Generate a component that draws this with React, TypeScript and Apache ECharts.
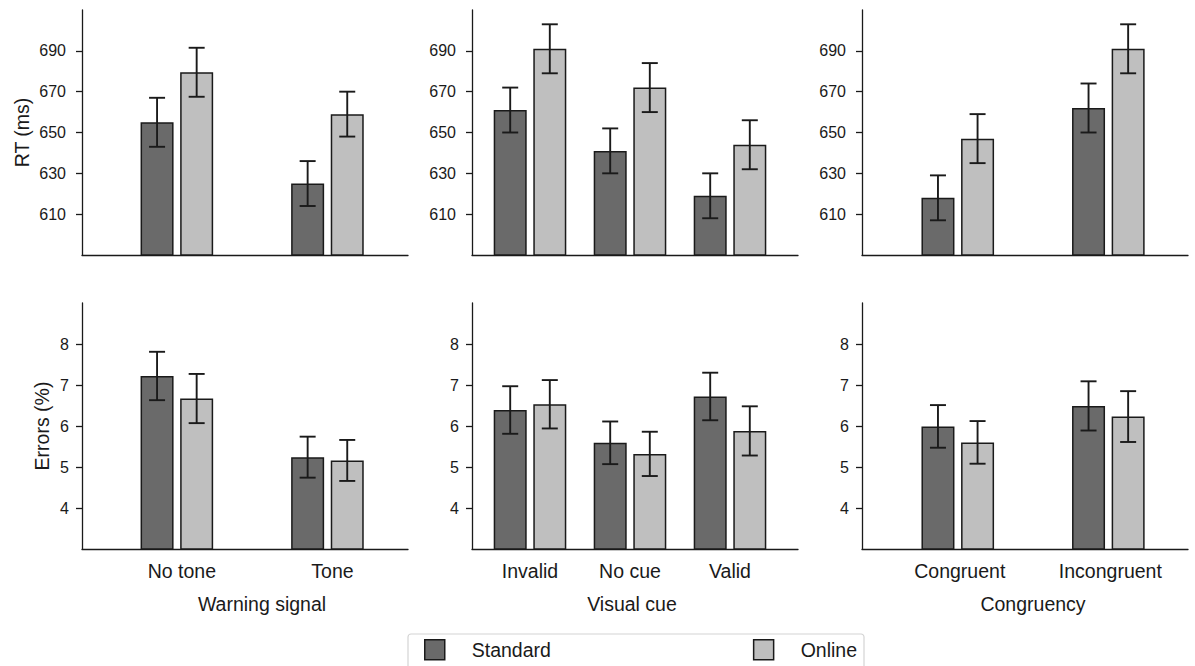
import React, { useEffect, useRef } from "react";
import * as echarts from "echarts";

// ---------- data ----------
const warningCats = ["No tone", "Tone"];
const cueCats = ["Invalid", "No cue", "Valid"];
const congCats = ["Congruent", "Incongruent"];

const rtTicks = [610, 630, 650, 670, 690];
const errTicks = [4, 5, 6, 7, 8];

// RT (ms)
const rtStdWarning = [655, 625];
const rtOnlWarning = [679.5, 659];
const rtStdWarningSE = [12, 11];
const rtOnlWarningSE = [12, 11];

const rtStdCue = [661, 641, 619];
const rtOnlCue = [691, 672, 644];
const rtStdCueSE = [11, 11, 11];
const rtOnlCueSE = [12, 12, 12];

const rtStdCong = [618, 662];
const rtOnlCong = [647, 691];
const rtStdCongSE = [11, 12];
const rtOnlCongSE = [12, 12];

// Errors (%)
const erStdWarning = [7.22, 5.24];
const erOnlWarning = [6.67, 5.16];
const erStdWarningSE = [0.59, 0.5];
const erOnlWarningSE = [0.6, 0.5];

const erStdCue = [6.39, 5.59, 6.72];
const erOnlCue = [6.53, 5.32, 5.88];
const erStdCueSE = [0.58, 0.52, 0.58];
const erOnlCueSE = [0.59, 0.54, 0.6];

const erStdCong = [5.99, 6.49];
const erOnlCong = [5.6, 6.23];
const erStdCongSE = [0.52, 0.6];
const erOnlCongSE = [0.52, 0.62];

// ---------- layout / style ----------
const FONT = "'Liberation Sans', Arial, Helvetica, sans-serif";
const INK = "#1a1a1a";
const DARK = "#6a6a6a";
const LIGHT = "#bfbfbf";
const BAR_W = 33;
const BAR_GAP = 0.2;
const BAR_OFF = (BAR_W + BAR_W * BAR_GAP) / 2;
const CAP = 8;

const panels = [
  { cats: warningCats, name: "Warning signal", left: 82, width: 326, xMin: -0.63, xMax: 1.535, namePad: [0, 0, 0, 34], labelPad: [0, 0, 0, 10] },
  { cats: cueCats, name: "Visual cue", left: 472, width: 326, xMin: -0.58, xMax: 2.68, namePad: [0, 6, 0, 0], labelPad: [0, 0, 0, 0] },
  { cats: congCats, name: "Congruency", left: 862, width: 326, xMin: -0.636, xMax: 1.529, namePad: [0, 0, 0, 16], labelPad: [0, 0, 0, 4] },
];

const rows = [
  {
    top: 10, height: 245, yMin: 590, yMax: 710, ticks: rtTicks, yName: "RT (ms)", nameGap: 50, labelMargin: 16,
    std: [rtStdWarning, rtStdCue, rtStdCong], onl: [rtOnlWarning, rtOnlCue, rtOnlCong],
    stdSE: [rtStdWarningSE, rtStdCueSE, rtStdCongSE], onlSE: [rtOnlWarningSE, rtOnlCueSE, rtOnlCongSE],
  },
  {
    top: 303, height: 246, yMin: 3, yMax: 9, ticks: errTicks, yName: "Errors (%)", nameGap: 30, labelMargin: 13,
    std: [erStdWarning, erStdCue, erStdCong], onl: [erOnlWarning, erOnlCue, erOnlCong],
    stdSE: [erStdWarningSE, erStdCueSE, erStdCongSE], onlSE: [erOnlWarningSE, erOnlCueSE, erOnlCongSE],
  },
];

function buildOption() {
  const grid: any[] = [];
  const xAxis: any[] = [];
  const yAxis: any[] = [];
  const series: any[] = [];

  rows.forEach((row, r) => {
    panels.forEach((p, c) => {
      const idx = r * 3 + c;
      grid.push({ left: p.left, top: row.top, width: p.width, height: row.height, containLabel: false });
      const isBottom = r === 1;
      xAxis.push({
        gridIndex: idx,
        type: "value",
        min: p.xMin,
        max: p.xMax,
        axisLine: { show: true, onZero: false, lineStyle: { color: INK, width: 1.3 } },
        axisTick: { show: false },
        splitLine: { show: false },
        axisLabel: isBottom
          ? {
              show: true,
              customValues: p.cats.map((_, i) => i),
              formatter: (v: number) => p.cats[Math.round(v)] ?? "",
              fontSize: 19.5,
              fontFamily: FONT,
              color: INK,
              margin: 12,
              padding: p.labelPad,
            }
          : { show: false },
        name: isBottom ? p.name : "",
        nameLocation: "middle",
        nameGap: 45,
        nameTextStyle: { fontSize: 19.5, fontFamily: FONT, color: INK, padding: p.namePad },
      });
      yAxis.push({
        gridIndex: idx,
        type: "value",
        min: row.yMin,
        max: row.yMax,
        axisLine: { show: true, onZero: false, lineStyle: { color: INK, width: 1.3 } },
        axisTick: { show: true, length: 6, customValues: row.ticks, lineStyle: { color: INK, width: 1.3 } },
        axisLabel: { customValues: row.ticks, fontSize: 16, fontFamily: FONT, color: INK, margin: row.labelMargin },
        splitLine: { show: false },
        name: c === 0 ? row.yName : "",
        nameLocation: "middle",
        nameRotate: 90,
        nameGap: row.nameGap,
        nameTextStyle: { fontSize: 19.5, fontFamily: FONT, color: INK },
      });

      const std = row.std[c];
      const onl = row.onl[c];
      series.push({
        type: "bar",
        name: "Standard",
        xAxisIndex: idx,
        yAxisIndex: idx,
        data: std.map((v, i) => [i, v]),
        barWidth: BAR_W,
        barGap: BAR_GAP * 100 + "%",
        itemStyle: { color: DARK, borderColor: INK, borderWidth: 1.5 },
        emphasis: { disabled: true },
        silent: true,
      });
      series.push({
        type: "bar",
        name: "Online",
        xAxisIndex: idx,
        yAxisIndex: idx,
        data: onl.map((v, i) => [i, v]),
        barWidth: BAR_W,
        barGap: BAR_GAP * 100 + "%",
        itemStyle: { color: LIGHT, borderColor: INK, borderWidth: 1.5 },
        emphasis: { disabled: true },
        silent: true,
      });
      const errData: number[][] = [];
      std.forEach((v, i) => errData.push([i, v, row.stdSE[c][i], 0]));
      onl.forEach((v, i) => errData.push([i, v, row.onlSE[c][i], 1]));
      series.push({
        type: "custom",
        name: "errorbars",
        xAxisIndex: idx,
        yAxisIndex: idx,
        data: errData,
        encode: { x: 0, y: 1 },
        z: 5,
        silent: true,
        renderItem: (_params: any, api: any) => {
          const x = api.value(0);
          const y = api.value(1);
          const e = api.value(2);
          const k = api.value(3);
          const off = k === 0 ? -BAR_OFF : BAR_OFF;
          const top = api.coord([x, y + e]);
          const bot = api.coord([x, y - e]);
          const cx = top[0] + off;
          const style = { stroke: INK, lineWidth: 1.9 };
          return {
            type: "group",
            children: [
              { type: "line", shape: { x1: cx, y1: top[1], x2: cx, y2: bot[1] }, style },
              { type: "line", shape: { x1: cx - CAP, y1: top[1], x2: cx + CAP, y2: top[1] }, style },
              { type: "line", shape: { x1: cx - CAP, y1: bot[1], x2: cx + CAP, y2: bot[1] }, style },
            ],
          };
        },
      });
    });
  });

  return {
    animation: false,
    backgroundColor: "#ffffff",
    textStyle: { fontFamily: FONT },
    grid,
    xAxis,
    yAxis,
    series,
    legend: {
      data: ["Standard", "Online"],
      left: 408,
      top: 634,
      orient: "horizontal",
      icon: "rect",
      itemWidth: 20,
      itemHeight: 20,
      itemGap: 202,
      padding: [5, 7, 40, 16],
      borderColor: "#d4d4d4",
      borderWidth: 1.2,
      borderRadius: 3,
      selectedMode: false,
      itemStyle: { borderColor: INK, borderWidth: 1.5 },
      textStyle: { fontSize: 19.5, fontFamily: FONT, color: INK, padding: [0, 0, 0, 22] },
    },
  };
}

export default function App() {
  const ref = useRef<HTMLDivElement>(null);
  useEffect(() => {
    if (!ref.current) return;
    const chart = echarts.init(ref.current, null, { renderer: "svg" });
    chart.setOption(buildOption() as any);
    return () => chart.dispose();
  }, []);
  return (
    <div
      ref={ref}
      style={{ position: "absolute", left: 0, top: 0, width: 1195, height: 666, background: "#fff" }}
    />
  );
}
